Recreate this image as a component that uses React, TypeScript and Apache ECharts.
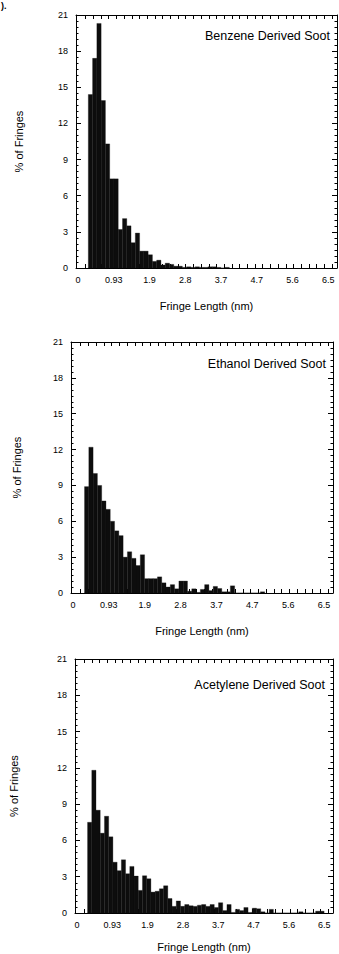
import React, { useEffect, useRef } from "react";
import * as echarts from "echarts";

// ---- data ----
const binWidth = 0.111; // nm
const benzeneStart = 0.27;
const ethanolStart = 0.3;
const acetyleneStart = 0.28;

const benzeneHeights = [
  14.4, 17.4, 20.3, 13.9, 10.3, 7.4, 7.4, 3.2, 4.1, 3.5, 2.1, 2.9, 1.4, 1.4, 1.1,
  0.55, 0.65, 0.25, 0.4, 0.3, 0.15, 0.15, 0.05, 0.1, 0.05, 0.1, 0.05, 0.05, 0.1,
  0.1, 0.05, 0, 0.05,
];
const ethanolHeights = [
  8.9, 12.2, 10.0, 9.0, 7.7, 7.0, 6.0, 5.2, 4.8, 3.0, 3.45, 2.9, 2.3, 3.2, 1.2,
  1.2, 1.2, 1.35, 0.85, 0.5, 0.7, 0.35, 1.0, 1.0, 0.15, 0.35, 0.05, 0.3, 0.7,
  0.2, 0.55, 0.38, 0.1, 0.1, 0.6, 0, 0, 0, 0, 0, 0, 0.1,
];
const acetyleneHeights = [
  7.5, 11.8, 8.5, 6.6, 8.0, 6.3, 4.2, 3.5, 4.4, 3.25, 3.85, 3.05, 1.87, 3.08,
  2.83, 1.73, 1.8, 2.0, 2.25, 1.2, 0.55, 1.0, 0.55, 0.7, 0.6, 0.55, 0.65, 0.7,
  0.55, 0.7, 0.45, 0.85, 0.2, 0.7, 0.05, 0.3, 0.2, 0.45, 0.05, 0.4, 0.35, 0.1,
  0, 0.3, 0, 0, 0, 0, 0, 0, 0.1, 0, 0, 0, 0.15, 0.15,
];

const panelTitles = ["Benzene Derived Soot", "Ethanol Derived Soot", "Acetylene Derived Soot"];
const xTickValues = [0, 0.93, 1.857, 2.786, 3.714, 4.643, 5.571, 6.5];
const xTickLabels = ["0", "0.93", "1.9", "2.8", "3.7", "4.7", "5.6", "6.5"];
const xMinorTicks = [
  0.2, 0.4, 0.6, 0.8, 1.0, 1.2, 1.4, 1.6, 1.8, 2.0, 2.2, 2.4, 2.6, 2.8, 3.0, 3.2,
  3.4, 3.6, 3.8, 4.0, 4.2, 4.4, 4.6, 4.8, 5.0, 5.2, 5.4, 5.6, 5.8, 6.0, 6.2, 6.4, 6.6,
];
const yMin = 0;
const yMax = 21;
const yStep = 3;

const FONT = "'Liberation Sans', Arial, Helvetica, sans-serif";

export default function App() {
  const ref = useRef<HTMLDivElement>(null);

  useEffect(() => {
    if (!ref.current) return;
    const chart = echarts.init(ref.current, null, { renderer: "svg", width: 339, height: 954 });

    const grids = [
      { left: 76, top: 15, width: 261, height: 253 },
      { left: 71, top: 342, width: 262, height: 251 },
      { left: 68, top: 659, width: 265, height: 254 },
    ];
    const yNameGaps = [52, 49, 56];
    const xNameGaps = [32, 32, 28];
    const titlePos = [
      [330, 36],
      [326, 364],
      [325, 685],
    ];
    const sets = [
      { start: benzeneStart, h: benzeneHeights },
      { start: ethanolStart, h: ethanolHeights },
      { start: acetyleneStart, h: acetyleneHeights },
    ];

    const line = { color: "#000", width: 1 };
    const xAxis: any[] = [];
    const yAxis: any[] = [];
    const series: any[] = [];

    grids.forEach((g, i) => {
      xAxis.push({
        gridIndex: i,
        type: "value",
        min: -0.05,
        max: 6.73,
        position: "bottom",
        axisLine: { show: true, onZero: false, lineStyle: line },
        axisTick: { show: true, inside: true, length: 4, customValues: xMinorTicks, lineStyle: line },
        axisLabel: {
          show: true,
          customValues: xTickValues,
          formatter: (v: number) => {
            let best = 0;
            xTickValues.forEach((t, k) => {
              if (Math.abs(t - v) < Math.abs(xTickValues[best] - v)) best = k;
            });
            return xTickLabels[best];
          },
          fontSize: 9,
          color: "#000",
          fontFamily: FONT,
          margin: 7,
        },
        splitLine: { show: false },
        name: "Fringe Length (nm)",
        nameLocation: "middle",
        nameGap: xNameGaps[i],
        nameTextStyle: { fontSize: 11, color: "#000", fontFamily: FONT },
      });
      xAxis.push({
        gridIndex: i,
        type: "value",
        min: -0.05,
        max: 6.73,
        position: "top",
        axisLine: { show: true, onZero: false, lineStyle: line },
        axisTick: { show: true, inside: true, length: 4, customValues: xMinorTicks, lineStyle: line },
        axisLabel: { show: false },
        splitLine: { show: false },
      });
      yAxis.push({
        gridIndex: i,
        type: "value",
        min: yMin,
        max: yMax,
        interval: yStep,
        position: "left",
        axisLine: { show: true, onZero: false, lineStyle: line },
        axisTick: { show: true, inside: true, length: 5, lineStyle: line },
        minorTick: { show: true, splitNumber: 6, length: 2.5, lineStyle: line },
        axisLabel: { fontSize: 9, color: "#000", fontFamily: FONT, margin: 8 },
        splitLine: { show: false },
        minorSplitLine: { show: false },
        name: "% of Fringes",
        nameLocation: "middle",
        nameRotate: 90,
        nameGap: yNameGaps[i],
        nameTextStyle: { fontSize: 11, color: "#000", fontFamily: FONT },
      });
      yAxis.push({
        gridIndex: i,
        type: "value",
        min: yMin,
        max: yMax,
        interval: yStep,
        position: "right",
        axisLine: { show: true, onZero: false, lineStyle: line },
        axisTick: { show: true, inside: true, length: 5, lineStyle: line },
        minorTick: { show: true, splitNumber: 6, length: 2.5, lineStyle: line },
        axisLabel: { show: false },
        splitLine: { show: false },
        minorSplitLine: { show: false },
      });

      const s = sets[i];
      series.push({
        type: "custom",
        xAxisIndex: 2 * i,
        yAxisIndex: 2 * i,
        data: s.h.map((v, k) => [s.start + k * binWidth, s.start + (k + 1) * binWidth, v]),
        encode: { x: [0, 1], y: 2 },
        renderItem: (params: any, api: any) => {
          const p0 = api.coord([api.value(0), api.value(2)]);
          const p1 = api.coord([api.value(1), 0]);
          return {
            type: "rect",
            shape: { x: p0[0], y: p0[1], width: p1[0] - p0[0], height: p1[1] - p0[1] },
            style: { fill: "#0d0d0d", stroke: "#0d0d0d", lineWidth: 0.3 },
          };
        },
      });
    });

    const graphic: any[] = panelTitles.map((t, i) => ({
      type: "text",
      x: titlePos[i][0],
      y: titlePos[i][1],
      style: {
        text: t,
        fontSize: 12.5,
        fill: "#000",
        fontFamily: FONT,
        align: "right",
        verticalAlign: "middle",
      },
    }));
    graphic.push({
      type: "text",
      x: 1,
      y: 1,
      style: { text: ").", fontSize: 9, fontWeight: "bold", fill: "#000", fontFamily: FONT, align: "left", verticalAlign: "top" },
    });

    chart.setOption({
      animation: false,
      backgroundColor: "#fff",
      grid: grids.map((g) => ({ ...g, containLabel: false })),
      xAxis,
      yAxis,
      series,
      graphic,
    });

    return () => chart.dispose();
  }, []);

  return (
    <div
      ref={ref}
      style={{ position: "absolute", left: 0, top: 0, width: 339, height: 954, background: "#fff" }}
    />
  );
}
